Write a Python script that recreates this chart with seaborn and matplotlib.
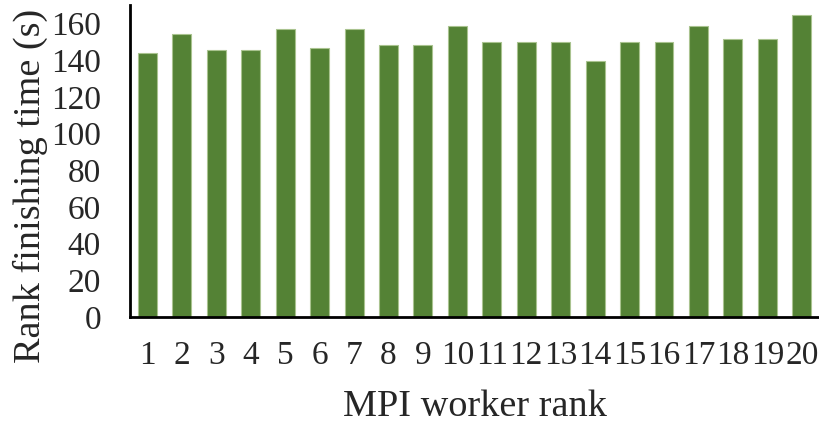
import matplotlib
matplotlib.use("Agg")
import matplotlib.pyplot as plt
import seaborn as sns
import pandas as pd

ranks = [str(i) for i in range(1, 21)]
finish_time = [144.1, 154.3, 145.4, 145.4, 157.2, 146.8, 157.2, 148.3, 148.3, 158.7,
               149.8, 149.8, 149.8, 139.4, 149.8, 149.8, 158.7, 151.4, 151.4, 164.7]
y_ticks = [0, 20, 40, 60, 80, 100, 120, 140, 160]

sns.set_theme(style="white")
plt.rcParams["font.family"] = ["Liberation Serif", "DejaVu Serif"]

df = pd.DataFrame({"rank": ranks, "time": finish_time})

fig = plt.figure(figsize=(8.19, 4.22), dpi=100)
ax = fig.add_axes([0.159, 0.249, 0.841, 0.739])

sns.barplot(data=df, x="rank", y="time", ax=ax, color="#548235",
            saturation=1, width=0.55, edgecolor="#a9c38f", linewidth=0.8)

ax.set_ylim(0, 170)
ax.set_xlim(-0.5, 19.5)
ax.set_yticks(y_ticks)
ax.tick_params(axis="both", labelsize=24, length=0)
ax.tick_params(axis="y", pad=21)
ax.tick_params(axis="x", pad=17)
ax.set_xlabel("MPI worker rank", fontsize=27.5, labelpad=13)
ax.set_ylabel("Rank finishing time (s)", fontsize=27.5)
ax.yaxis.set_label_coords(-0.12, 0.42)

for side in ("top", "right"):
    ax.spines[side].set_visible(False)
for side in ("left", "bottom"):
    ax.spines[side].set_color("black")
    ax.spines[side].set_linewidth(2)

fig.savefig("out.png", dpi=100)
